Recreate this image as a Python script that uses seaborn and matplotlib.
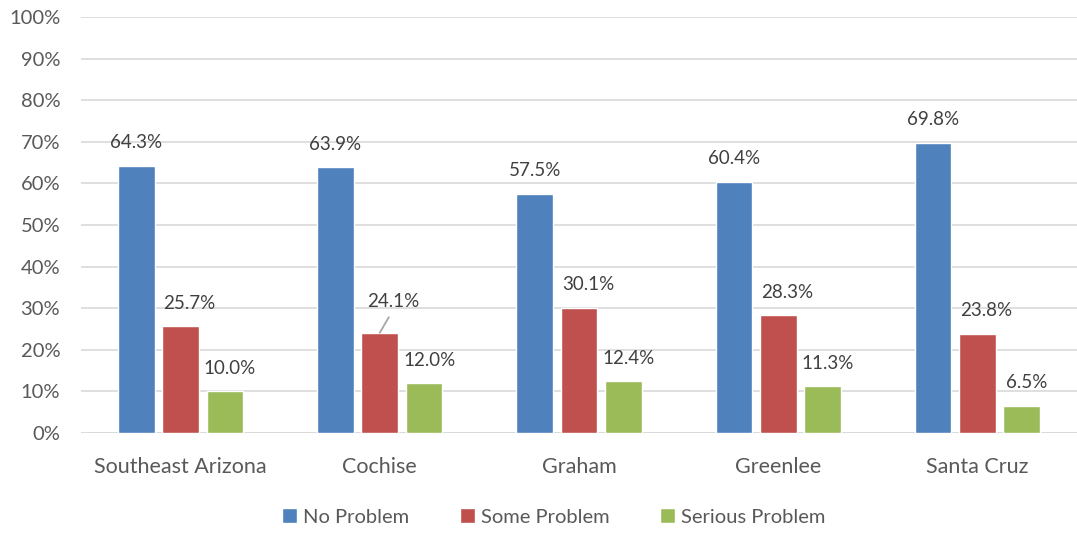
import pandas as pd
import seaborn as sns
import matplotlib.pyplot as plt
import numpy as np

# data
regions = ['Southeast Arizona', 'Cochise', 'Graham', 'Greenlee', 'Santa Cruz']
series = ['No Problem', 'Some Problem', 'Serious Problem']
no_problem = [64.3, 63.9, 57.5, 60.4, 69.8]
some_problem = [25.7, 24.1, 30.1, 28.3, 23.8]
serious_problem = [10.0, 12.0, 12.4, 11.3, 6.5]

colors = ['#4F81BD', '#C0504D', '#9BBB59']

# long format for seaborn
df = pd.DataFrame({
    'region': regions * 3,
    'series': [s for s in series for _ in regions],
    'value': no_problem + some_problem + serious_problem,
})

sns.set_style('white')
plt.rcParams['font.family'] = ['Lato', 'DejaVu Sans']

fig = plt.figure(figsize=(10.77, 5.33), dpi=100)
ax = fig.add_axes([0.0752, 0.1876, 0.9248, 0.7805])

sns.barplot(data=df, x='region', y='value', hue='series', order=regions,
            hue_order=series, palette=colors, width=0.667, gap=0.17,
            saturation=1, ax=ax, legend=True)

ax.set_ylim(0, 100)
ax.set_xlim(-0.5, 4.5)
ax.set_yticks(np.arange(0, 101, 10))
ax.set_yticklabels([f'{t}%' for t in range(0, 101, 10)])
ax.yaxis.grid(True, color='#D9D9D9', linewidth=1.2)
ax.set_axisbelow(True)
for s in ['top', 'right', 'left', 'bottom']:
    ax.spines[s].set_visible(False)
ax.axhline(0, color='#D9D9D9', linewidth=1.2, zorder=0)
ax.tick_params(axis='both', length=0, colors='#595959')
ax.tick_params(axis='x', pad=17, labelsize=15.5)
ax.tick_params(axis='y', pad=15, labelsize=14.5)
ax.set_xlabel('')
ax.set_ylabel('')

# data labels (offset in pixels, like the Excel original)
x_shift = [0, 9, 5]
for i, cont in enumerate(ax.containers):
    for j, bar in enumerate(cont):
        h = bar.get_height()
        xc = bar.get_x() + bar.get_width() / 2
        if i == 1 and j == 1:
            # dragged label with a leader line
            ax.annotate(f'{h:.1f}%', xy=(xc, h), xytext=(13, 31),
                        textcoords='offset pixels', ha='center', va='center',
                        fontsize=13.5, color='#404040',
                        arrowprops=dict(arrowstyle='-', color='#A6A6A6',
                                        lw=1.3, relpos=(0.5, 0), shrinkA=3,
                                        shrinkB=0))
        else:
            ax.annotate(f'{h:.1f}%', xy=(xc, h), xytext=(x_shift[i], 23),
                        textcoords='offset pixels', ha='center', va='center',
                        fontsize=13.5, color='#404040')

handles, labels = ax.get_legend_handles_labels()
ax.legend_.remove()
fig.legend(handles, labels, loc='center', bbox_to_anchor=(0.514, 0.03), ncol=3,
           frameon=False, fontsize=14.5, handlelength=0.75, handleheight=0.75,
           handletextpad=0.3, columnspacing=2.5, labelcolor='#595959')

fig.savefig('out.png', dpi=100)
